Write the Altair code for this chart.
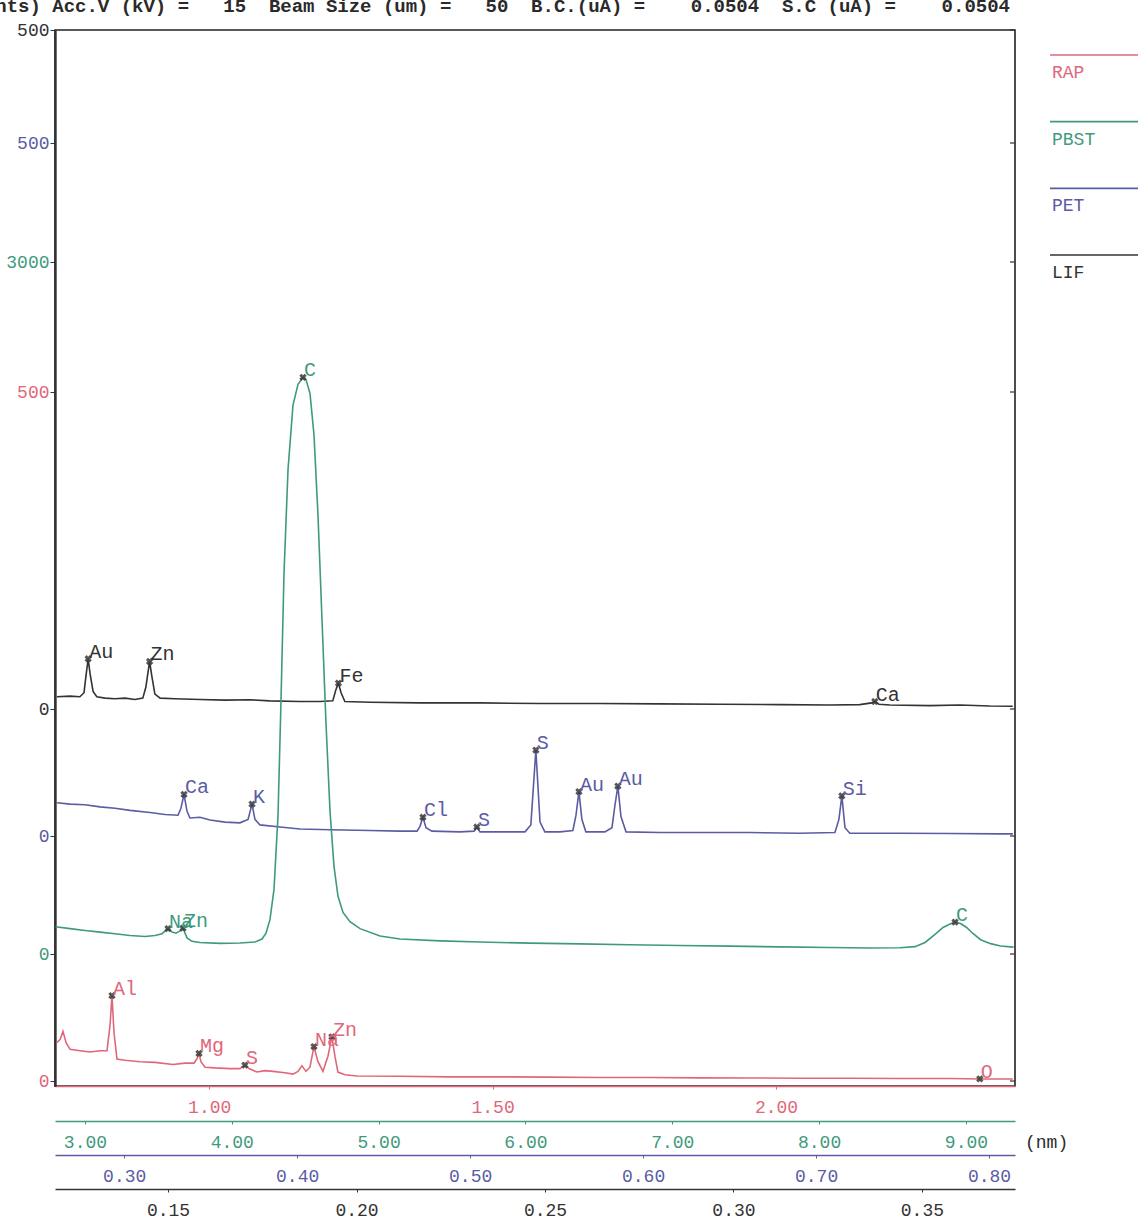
import altair as alt
import pandas as pd

FONT = "Liberation Mono, DejaVu Sans Mono, monospace"

RED = "#e0677a"
GREEN = "#3f9a7c"
BLUE = "#5b5ca3"
BLACK = "#333333"

# ---- LIF crystal: wavelength (nm) / counts ----
lif_wl = [0.1205, 0.1240, 0.1266, 0.1277, 0.1282, 0.1288, 0.1293, 0.1301, 0.1311, 0.1333,
          0.1359, 0.1386, 0.1412, 0.1433, 0.1441, 0.1451, 0.1457, 0.1465, 0.1479, 0.1518,
          0.1585, 0.1651, 0.1717, 0.1770, 0.1850, 0.1903, 0.1937, 0.1945, 0.1952, 0.1959,
          0.1969, 0.2036, 0.2168, 0.2327, 0.2487, 0.2646, 0.2805, 0.2964, 0.3123, 0.3256,
          0.3335, 0.3367, 0.3375, 0.3386, 0.3415, 0.3521, 0.3601, 0.3680, 0.3741]
lif_ct = [9, 9.5, 9, 12, 24, 37, 26, 13, 9, 8,
          7.5, 8, 7, 8, 16, 35, 24, 11, 8, 7.5,
          7, 6.5, 6.8, 6, 5.5, 5.5, 6, 14, 19, 12,
          5.5, 5, 4.5, 4.5, 4, 4, 3.8, 3.5, 3.2, 3,
          3.2, 4.5, 5.5, 3.5, 3, 2.5, 3, 2.2, 2]
lif_pk = ["Au", "Zn", "Fe", "Ca"]
lif_pk_wl = [0.1288, 0.1451, 0.1952, 0.3375]
lif_pk_ct = [37, 35, 19, 5.5]
lif_range = [0.1200, 0.3747]
lif_ticks = [0.15, 0.20, 0.25, 0.30, 0.35]

# ---- PET crystal ----
pet_wl = [0.2612, 0.2687, 0.2773, 0.2860, 0.2947, 0.3034, 0.3149, 0.3236, 0.3311, 0.3328,
          0.3346, 0.3363, 0.3380, 0.3438, 0.3496, 0.3583, 0.3669, 0.3716, 0.3739, 0.3756,
          0.3785, 0.3901, 0.4016, 0.4190, 0.4421, 0.4594, 0.4693, 0.4710, 0.4727, 0.4745,
          0.4779, 0.4941, 0.5022, 0.5039, 0.5057, 0.5172, 0.5317, 0.5351, 0.5380, 0.5404,
          0.5432, 0.5519, 0.5594, 0.5612, 0.5629, 0.5646, 0.5669, 0.5779, 0.5820, 0.5837,
          0.5854, 0.5872, 0.5901, 0.6097, 0.6328, 0.6617, 0.6906, 0.7109, 0.7132, 0.7149,
          0.7167, 0.7195, 0.7484, 0.7773, 0.8062, 0.8138]
pet_ct = [24, 23, 22.5, 21, 20, 18.5, 17, 15.5, 15, 20,
          30, 18, 13, 13.5, 11.5, 10, 9.5, 12, 23, 12,
          8, 6.5, 5, 4.5, 4, 3.5, 3.5, 7, 13.5, 6,
          3.5, 3, 3.5, 6.5, 3, 3, 3, 8, 62, 10,
          3, 3, 4, 15, 32, 12, 3, 3, 6, 22,
          36, 14, 3, 2.5, 2.5, 2.5, 2, 2.5, 12, 29,
          6, 2, 2, 1.8, 1.5, 1.5]
pet_pk = ["Ca", "K", "Cl", "S", "S", "Au", "Au", "Si"]
pet_pk_wl = [0.3346, 0.3739, 0.4727, 0.5039, 0.5380, 0.5629, 0.5854, 0.7149]
pet_pk_ct = [30, 23, 13.5, 6.5, 62, 32, 36, 29]
pet_range = [0.2600, 0.8150]
pet_ticks = [0.30, 0.40, 0.50, 0.60, 0.70, 0.80]

# ---- PBST crystal ----
pbst_wl = [2.7996, 2.8982, 3.0003, 3.1025, 3.2046, 3.3068, 3.4090, 3.4771, 3.5248, 3.5656,
           3.5929, 3.6201, 3.6473, 3.6678, 3.6950, 3.7291, 3.7835, 3.9198, 4.0560, 4.1581,
           4.2058, 4.2330, 4.2603, 4.2875, 4.3148, 4.3352, 4.3556, 4.3829, 4.4169, 4.4510,
           4.4850, 4.5054, 4.5327, 4.5599, 4.5872, 4.6144, 4.6416, 4.6689, 4.6961, 4.7234,
           4.7574, 4.8051, 4.8732, 5.0094, 5.1457, 5.4181, 5.6905, 6.0310, 6.3716, 6.7121,
           7.0526, 7.3932, 7.7337, 8.0742, 8.3466, 8.5510, 8.6531, 8.7212, 8.7893, 8.8438,
           8.8915, 8.9255, 8.9636, 9.0045, 9.0453, 9.0998, 9.1679, 9.2360, 9.3245]
pbst_ct = [118, 110, 102, 95, 88, 80, 76, 80, 88, 110,
           95, 90, 100, 112, 70, 55, 50, 46, 48, 52,
           65, 90, 150, 280, 600, 1100, 1650, 2100, 2380, 2470,
           2500, 2490, 2430, 2250, 1900, 1450, 1000, 620, 380, 250,
           180, 140, 110, 78, 65, 57, 52, 47, 44, 40,
           37, 34, 31, 28, 26, 27, 32, 50, 85, 115,
           130, 138, 132, 115, 90, 62, 45, 35, 30]
pbst_pk = ["Na", "Zn", "C", "C"]
pbst_pk_wl = [3.5656, 3.6678, 4.4850, 8.9255]
pbst_pk_ct = [110, 112, 2500, 138]
pbst_range = [2.796, 9.334]
pbst_ticks = [3.0, 4.0, 5.0, 6.0, 7.0, 8.0, 9.0]

# ---- RAP crystal ----
rap_wl = [0.7315, 0.7368, 0.7421, 0.7474, 0.7545, 0.7721, 0.7897, 0.8074, 0.8197, 0.8250,
          0.8285, 0.8321, 0.8373, 0.8515, 0.8779, 0.9044, 0.9361, 0.9573, 0.9732, 0.9784,
          0.9820, 0.9855, 0.9926, 1.0102, 1.0366, 1.0543, 1.0631, 1.0702, 1.0843, 1.0984,
          1.1125, 1.1337, 1.1478, 1.1566, 1.1636, 1.1707, 1.1777, 1.1848, 1.1919, 1.2007,
          1.2095, 1.2165, 1.2218, 1.2271, 1.2395, 1.2606, 1.3365, 1.4247, 1.5128, 1.6010,
          1.6892, 1.7774, 1.8656, 1.9538, 2.0419, 2.1301, 2.2183, 2.3065, 2.3594, 2.3947,
          2.4176]
rap_ct = [28, 30, 36, 28, 23, 22, 21, 22, 22, 40,
          62, 35, 16, 15, 14, 13.5, 12, 13, 13, 16,
          20, 14, 10, 9.5, 9, 9, 11.5, 9, 6.5, 7.5,
          7, 6, 5, 7, 11, 7, 10, 25, 14, 7,
          18, 32, 18, 6.5, 4.5, 3.6, 3.5, 3, 3, 2.8,
          2.5, 2.5, 2.3, 2.2, 2, 2, 1.8, 1.8, 1.5, 1.5,
          1.5]
rap_pk = ["Al", "Mg", "S", "Na", "Zn", "O"]
rap_pk_wl = [0.8285, 0.9820, 1.0631, 1.1848, 1.2165, 2.3594]
rap_pk_ct = [62, 20, 11.5, 25, 32, 1.5]
rap_range = [0.728, 2.4215]
rap_ticks = [1.00, 1.50, 2.00]

legend_names = ["RAP", "PBST", "PET", "LIF"]
legend_colors = [RED, GREEN, BLUE, BLACK]

header = ("(counts) Acc.V (kV) =\u00a0\u00a0\u00a015\u00a0\u00a0Beam Size (um) =\u00a0\u00a0\u00a050"
          "\u00a0\u00a0B.C.(uA) =\u00a0\u00a0\u00a0\u00a00.0504\u00a0\u00a0S.C (uA) =\u00a0\u00a0\u00a0\u00a00.0504")

# ---- layout ----
W, H = 960, 1056
LEFT, TOP = 55, 30


def spectrum(wl, ct, pk, pk_wl, pk_ct, wl_range, ticks, fmt, full, zero_y, full_y, color, offset):
    """Layers for one crystal: trace, peak markers, element names, right-edge ticks.
    zero_y / full_y: vertical plot positions of 0 counts and of the full-scale count."""
    ppc = (zero_y - full_y) / full
    y_dom = [-(H - zero_y) / ppc, zero_y / ppc]

    def xs():
        return alt.Scale(domain=wl_range, nice=False, zero=False)

    def ys():
        return alt.Scale(domain=y_dom, nice=False, zero=False)

    x_axis = alt.Axis(orient="bottom", offset=offset, values=ticks, format=fmt, title=None,
                      labelColor=color, domainColor=color, tickColor=color, domainWidth=1.6,
                      tickSize=3, labelPadding=9, labelFont=FONT, labelFontSize=18,
                      labelFlush=False, labelOverlap=False, grid=False)
    y_axis = alt.Axis(orient="left", values=[0, full], format="d", title=None,
                      labelColor=color, domainColor=BLACK, tickColor=BLACK, domainWidth=1.5,
                      tickSize=5, labelPadding=1, labelFont=FONT, labelFontSize=18,
                      labelFlush=False, labelOverlap=False, grid=False)

    trace = alt.Chart(pd.DataFrame({"wl": wl, "ct": ct})).mark_line(
        color=color, strokeWidth=1.6, clip=True
    ).encode(
        x=alt.X("wl:Q", scale=xs(), axis=x_axis),
        y=alt.Y("ct:Q", scale=ys(), axis=y_axis),
    )

    peaks = pd.DataFrame({"el": pk, "wl": pk_wl, "ct": pk_ct})
    marks = alt.Chart(peaks).mark_point(
        shape="cross", angle=45, size=55, filled=True, color="#3a3a3a", opacity=0.85
    ).encode(
        x=alt.X("wl:Q", scale=xs(), axis=None),
        y=alt.Y("ct:Q", scale=ys(), axis=None),
    )
    names = alt.Chart(peaks).mark_text(
        align="left", baseline="bottom", dx=1, dy=3, font=FONT, fontSize=20, color=color
    ).encode(
        x=alt.X("wl:Q", scale=xs(), axis=None),
        y=alt.Y("ct:Q", scale=ys(), axis=None),
        text="el:N",
    )
    right_ticks = alt.Chart(pd.DataFrame({"ct": [0, full]})).mark_rule(
        color=BLACK, strokeWidth=1.2
    ).encode(
        y=alt.Y("ct:Q", scale=ys(), axis=None),
        x=alt.value(W - 5),
        x2=alt.value(W),
    )
    return [trace, marks, names, right_ticks]


lif = spectrum(lif_wl, lif_ct, lif_pk, lif_pk_wl, lif_pk_ct, lif_range, lif_ticks, ".2f",
               500, 679, 0, BLACK, 103)
pet = spectrum(pet_wl, pet_ct, pet_pk, pet_pk_wl, pet_pk_ct, pet_range, pet_ticks, ".2f",
               500, 806, 113, BLUE, 69)
pbst = spectrum(pbst_wl, pbst_ct, pbst_pk, pbst_pk_wl, pbst_pk_ct, pbst_range, pbst_ticks, ".2f",
                3000, 924, 232, GREEN, 35)
rap = spectrum(rap_wl, rap_ct, rap_pk, rap_pk_wl, rap_pk_ct, rap_range, rap_ticks, ".2f",
               500, 1051, 362, RED, 0)

# crystal key at the right of the frame: a short rule over each name
key_df = pd.DataFrame({"name": legend_names})
key_y = alt.Y("name:N", sort=legend_names, axis=None,
              scale=alt.Scale(type="point", range=[43, 243], padding=0))
key_color = alt.Color("name:N", legend=None,
                      scale=alt.Scale(domain=legend_names, range=legend_colors))
key_lines = alt.Chart(key_df).mark_rule(strokeWidth=1.6, yOffset=-18).encode(
    y=key_y, x=alt.value(995), x2=alt.value(1085), color=key_color
)
key_text = alt.Chart(key_df).mark_text(
    align="left", baseline="middle", font=FONT, fontSize=18
).encode(y=key_y, x=alt.value(997), text="name:N", color=key_color)

head = alt.Chart(pd.DataFrame({"t": [header]})).mark_text(
    align="right", baseline="bottom", font=FONT, fontSize=19, fontWeight="bold", color="#2a2a2a"
).encode(text="t:N", x=alt.value(955), y=alt.value(-14))

unit = alt.Chart(pd.DataFrame({"t": ["(nm)"]})).mark_text(
    align="left", baseline="middle", font=FONT, fontSize=18, color="#2a2a2a"
).encode(text="t:N", x=alt.value(970), y=alt.value(1143 - TOP))

chart = alt.layer(
    *lif, *pet, *pbst, *rap, key_lines, key_text, head, unit
).resolve_scale(
    x="independent", y="independent", color="independent"
).properties(
    width=W,
    height=H,
    autosize=alt.AutoSizeParams(type="none"),
    padding={"left": LEFT, "top": TOP, "right": 1138 - LEFT - W, "bottom": 1227 - TOP - H},
    background="white",
).configure_view(
    stroke="#222222", strokeWidth=1.6
).configure_axis(
    grid=False
)

chart.save("out.html", embed_options={"renderer": "svg", "actions": False})
